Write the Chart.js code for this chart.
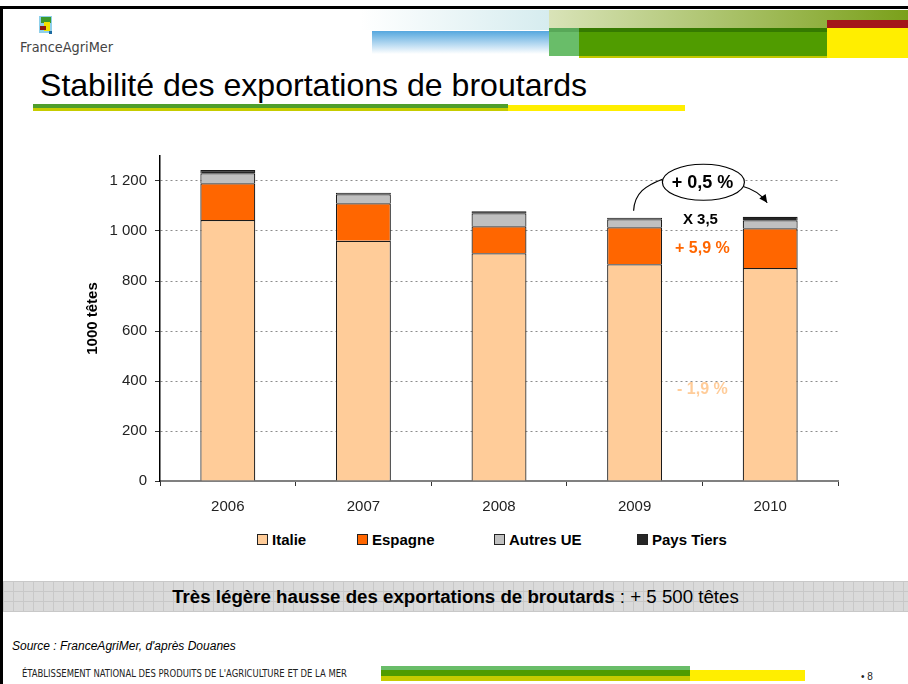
<!DOCTYPE html>
<html>
<head>
<meta charset="utf-8">
<script src="https://cdn.jsdelivr.net/npm/chart.js@4.4.1/dist/chart.umd.min.js"></script>
<style>
  html, body { margin: 0; padding: 0; }
  body { width: 908px; height: 684px; position: relative; overflow: hidden; background: #fff;
         font-family: 'Liberation Sans', Arial, sans-serif; color: #000; }
  .abs { position: absolute; }
  .cond { font-family: 'DejaVu Sans Condensed', 'DejaVu Sans', sans-serif; font-stretch: condensed; white-space: nowrap; transform-origin: left center; }
  #legend { position: absolute; top: 531px; left: 0; width: 908px; height: 18px; }
  .lg-item { position: absolute; top: 0; font: bold 15px 'Liberation Sans', Arial, sans-serif; line-height: 18px; white-space: nowrap; }
  .lg-box { display: inline-block; width: 9px; height: 9px; border: 1px solid #222; margin-right: 4px; vertical-align: 0px; }
</style>
</head>
<body>
<!-- frame -->
<div class="abs" style="left:0;top:6px;width:908px;height:3px;background:#000"></div>
<div class="abs" style="left:0;top:6px;width:3px;height:678px;background:#000"></div>

<!-- header graphics -->
<div class="abs" style="left:360px;top:10px;width:189px;height:20px;background:linear-gradient(90deg,#ffffff,#d6ecef)"></div>
<div class="abs" style="left:549px;top:10px;width:359px;height:18px;background:linear-gradient(90deg,#d9e3b8,#7aa01a)"></div>
<div class="abs" style="left:372px;top:31px;width:177px;height:23px;background:linear-gradient(180deg,#55a7de,#ffffff)"></div>
<div class="abs" style="left:549px;top:28px;width:30px;height:28px;background:#69bd69"></div>
<div class="abs" style="left:549px;top:28px;width:30px;height:4px;background:#58a858"></div>
<div class="abs" style="left:579px;top:28px;width:248px;height:30px;background:#c2c800"></div>
<div class="abs" style="left:579px;top:28px;width:248px;height:28px;background:#509c00"></div>
<div class="abs" style="left:579px;top:28px;width:248px;height:4px;background:#357a00"></div>
<div class="abs" style="left:827px;top:20px;width:81px;height:8px;background:#a3161a"></div>
<div class="abs" style="left:827px;top:28px;width:81px;height:30px;background:#ffee00"></div>

<!-- logo -->
<div class="abs" style="left:39px;top:16px;width:13px;height:17px;background:#8fd0ea"></div>
<div class="abs" style="left:41px;top:17px;width:10px;height:6px;background:#3c9a2c"></div>
<div class="abs" style="left:44px;top:22px;width:6px;height:9px;background:#f2e400"></div>
<div class="abs" style="left:40px;top:26px;width:6px;height:4px;background:#8c1c12"></div>
<div class="abs" style="left:49px;top:31px;width:3px;height:3px;background:#1c6aa0"></div>
<div class="abs cond" id="brand" style="left:20px;top:38px;font-size:14px;line-height:18px;color:#444;font-weight:300">FranceAgriMer</div>

<!-- title -->
<div class="abs" id="title" style="left:40px;top:66px;font-size:32px;line-height:38px;white-space:nowrap;transform-origin:left center">Stabilité des exportations de broutards</div>
<div class="abs" style="left:33px;top:104px;width:475px;height:4px;background:#4f9e2c"></div>
<div class="abs" style="left:33px;top:108px;width:475px;height:3px;background:#c6cc00"></div>
<div class="abs" style="left:508px;top:105px;width:177px;height:6px;background:#ffee00"></div>

<!-- chart -->
<div class="abs" style="left:60px;top:139px;width:800px;height:382px"><canvas id="chart"></canvas></div>
<div id="legend"></div>

<!-- banner -->
<div class="abs" style="left:3px;top:581px;width:905px;height:31px;background-color:#dadada;
  background-image:repeating-linear-gradient(0deg,#c8c8c8 0 1px,transparent 1px 10px),repeating-linear-gradient(90deg,#c8c8c8 0 1px,transparent 1px 10px);"></div>
<div class="abs" style="left:3px;top:581px;width:905px;height:31px;line-height:31px;text-align:center;font-size:18.7px;white-space:nowrap">
  <b>Très légère hausse des exportations de broutards</b> : + 5 500 têtes</div>

<div class="abs" style="left:12px;top:638px;font-size:12px;font-style:italic;line-height:16px;white-space:nowrap">Source : FranceAgriMer, d'après Douanes</div>
<div class="abs cond" id="footer" style="left:22px;top:667px;font-size:10px;line-height:13px;color:#222">ÉTABLISSEMENT NATIONAL DES PRODUITS DE L'AGRICULTURE ET DE LA MER</div>

<!-- footer bars -->
<div class="abs" style="left:381px;top:666px;width:309px;height:4px;background:#69bd69"></div>
<div class="abs" style="left:381px;top:670px;width:309px;height:6px;background:#509c00"></div>
<div class="abs" style="left:381px;top:676px;width:309px;height:5px;background:#c6cc00"></div>
<div class="abs" style="left:690px;top:670px;width:115px;height:11px;background:#ffee00"></div>
<div class="abs" style="left:861px;top:670px;font-size:10px;line-height:13px;white-space:nowrap;color:#222">• 8</div>

<script>
const years     = ['2006', '2007', '2008', '2009', '2010']
const italie    = [1044, 961, 911, 867, 852]
const espagne   = [147, 150, 108, 148, 159]
const autresUE  = [40, 36, 52, 32, 32]
const paysTiers = [13, 6, 8, 6, 14]

const seriesNames  = ['Italie', 'Espagne', 'Autres UE', 'Pays Tiers']
const seriesColors = ['#FFCC99', '#FF6600', '#C0C0C0', '#262626']
const yTicks = [0, 200, 400, 600, 800, 1000, 1200]

const totals = years.map((_, i) => italie[i] + espagne[i] + autresUE[i] + paysTiers[i])

function fitWidth(id, w) {
  const el = document.getElementById(id)
  const cur = el.getBoundingClientRect().width
  el.style.transform = `scaleX(${w / cur})`
}
fitWidth('brand', 93)
fitWidth('footer', 325)
fitWidth('title', 547)

function fmt(v) {
  return String(v).replace(/\B(?=(\d{3})+(?!\d))/g, ' ')
}

// annotations between 2009 and 2010
const notesPlugin = {
  id: 'notes',
  afterDatasetsDraw(chart) {
    const { ctx } = chart
    const x = chart.scales.x, y = chart.scales.y
    const x09 = x.getPixelForValue(3), x10 = x.getPixelForValue(4)
    const xm = (x09 + x10) / 2
    const yc = y.getPixelForValue(1195)
    ctx.save()

    // curved arrows
    ctx.strokeStyle = '#000'
    ctx.lineWidth = 1.2
    const sx = x09 - 1, sy = y.getPixelForValue(totals[3]) - 7
    ctx.beginPath()
    ctx.moveTo(sx, sy)
    ctx.bezierCurveTo(sx + 1, sy - 18, sx + 12, sy - 25, xm - 40, yc - 3)
    ctx.stroke()

    const tx = x10 - 3, ty = y.getPixelForValue(totals[4]) - 14
    const cx = tx - 9, cy = yc + 8
    ctx.beginPath()
    ctx.moveTo(xm + 40, yc + 4)
    ctx.quadraticCurveTo(cx, cy, tx, ty)
    ctx.stroke()
    const ang = Math.atan2(ty - cy, tx - cx)
    ctx.fillStyle = '#000'
    ctx.beginPath()
    ctx.moveTo(tx, ty)
    ctx.lineTo(tx - 9 * Math.cos(ang - 0.45), ty - 9 * Math.sin(ang - 0.45))
    ctx.lineTo(tx - 9 * Math.cos(ang + 0.45), ty - 9 * Math.sin(ang + 0.45))
    ctx.closePath()
    ctx.fill()

    // ellipse
    ctx.beginPath()
    ctx.ellipse(xm + 1, yc, 41, 18, 0, 0, Math.PI * 2)
    ctx.fillStyle = '#fff'
    ctx.fill()
    ctx.stroke()

    ctx.textAlign = 'center'
    ctx.textBaseline = 'middle'
    ctx.fillStyle = '#000'
    ctx.font = "bold 18px 'Liberation Sans', Arial, sans-serif"
    ctx.fillText('+ 0,5 %', xm, yc + 1)

    ctx.font = "bold 15px 'Liberation Sans', Arial, sans-serif"
    ctx.fillText('X 3,5', xm - 2, y.getPixelForValue(1045))

    ctx.font = "bold 16px 'Liberation Sans', Arial, sans-serif"
    ctx.fillStyle = '#FF6600'
    ctx.fillText('+ 5,9 %', xm, y.getPixelForValue(928))
    ctx.fillStyle = '#FFCC99'
    ctx.fillText('- 1,9 %', xm, y.getPixelForValue(365))
    ctx.restore()
  }
}

const seriesData = [italie, espagne, autresUE, paysTiers]
const datasets = seriesNames.map((name, i) => ({
  label: name,
  data: seriesData[i],
  backgroundColor: seriesColors[i],
  borderColor: '#1a1a1a',
  borderWidth: 1.2,
  barPercentage: 0.405,
  categoryPercentage: 1
}))

new Chart(document.getElementById('chart'), {
  type: 'bar',
  data: { labels: years, datasets },
  plugins: [notesPlugin],
  options: {
    responsive: true,
    maintainAspectRatio: false,
    animation: false,
    layout: { padding: { top: 6, right: 22, left: 0, bottom: 0 } },
    plugins: {
      legend: { display: false },
      tooltip: { enabled: false }
    },
    scales: {
      x: {
        stacked: true,
        afterFit: s => { s.height = 40 },
        grid: { display: true, drawOnChartArea: false, offset: true, tickLength: 5, tickColor: '#333', lineWidth: 1 },
        border: { display: true, color: '#808080', width: 2 },
        ticks: { color: '#222', padding: 12, font: { size: 15, family: "'Liberation Sans', Arial, sans-serif" } }
      },
      y: {
        stacked: true,
        min: 0,
        max: 1300,
        afterFit: s => { s.width = 100 },
        afterBuildTicks: s => { s.ticks = yTicks.map(v => ({ value: v })) },
        grid: { color: '#8c8c8c', lineWidth: 1, tickLength: 5, tickColor: '#333', tickBorderDash: [] },
        border: { display: true, color: '#000', width: 1.5, dash: [2, 3] },
        ticks: {
          color: '#222', padding: 8,
          font: { size: 15, family: "'Liberation Sans', Arial, sans-serif" },
          callback: v => fmt(v)
        },
        title: {
          display: true, text: '1000 têtes', color: '#000',
          padding: { top: 24, bottom: 0 },
          font: { size: 15, weight: 'bold', family: "'Liberation Sans', Arial, sans-serif" }
        }
      }
    }
  }
})

// legend, placed like the original slide
const legendLeft = [257, 357, 494, 637]
const legend = document.getElementById('legend')
seriesNames.forEach((name, i) => {
  const item = document.createElement('div')
  item.className = 'lg-item'
  item.style.left = legendLeft[i] + 'px'
  item.innerHTML = `<span class="lg-box" style="background:${seriesColors[i]}"></span>${name}`
  legend.appendChild(item)
})
</script>
</body>
</html>
